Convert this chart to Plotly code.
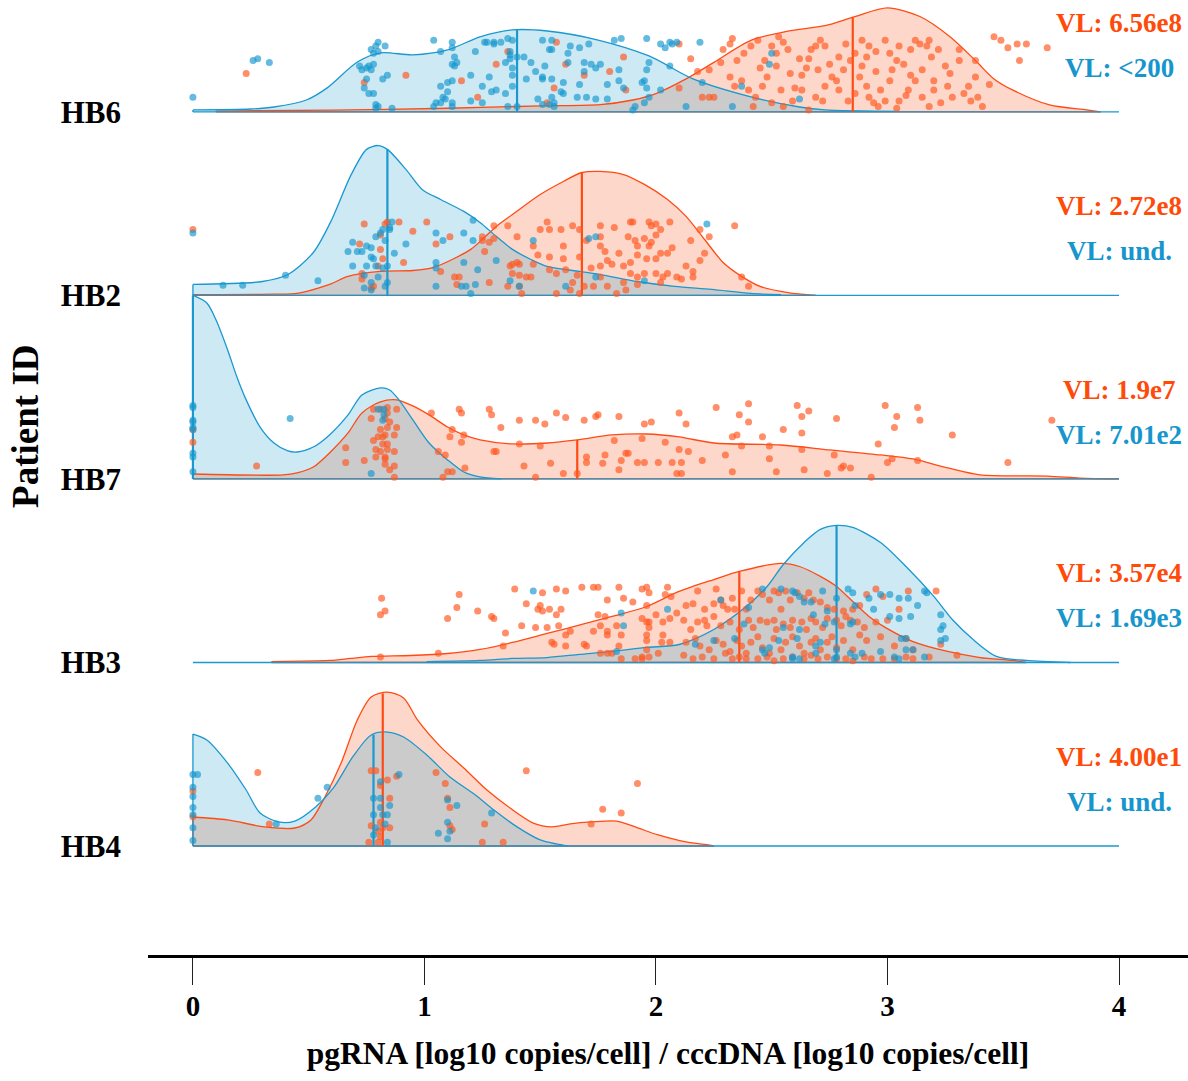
import numpy as np
import plotly.graph_objects as go

# ---------------------------------------------------------------------------
# Ridges, bottom to top
patients = ["HB4", "HB3", "HB7", "HB2", "HB6"]
ridge_pos = [1, 2, 3, 4, 5]
x_ticks = [0, 1, 2, 3, 4]

# Viral-load labels per patient (series 1 = orange, series 2 = blue)
vl_1 = ["VL: 4.00e1", "VL: 3.57e4", "VL: 1.9e7", "VL: 2.72e8", "VL: 6.56e8"]
vl_2 = ["VL: und.", "VL: 1.69e3", "VL: 7.01e2", "VL: und.", "VL: &lt;200"]

# Median positions per patient
median_1 = [0.82, 2.36, 1.66, 1.68, 2.85]
median_2 = [0.78, 2.78, 0.00, 0.84, 1.40]

# Density curves: (value, scaled density)
hb6_dens_1 = [(0.10, 0.005), (0.60, 0.010), (1.10, 0.020), (1.50, 0.033), (1.76, 0.040),
              (1.90, 0.065), (2.00, 0.100), (2.13, 0.180), (2.25, 0.270), (2.41, 0.390),
              (2.57, 0.440), (2.73, 0.470), (2.86, 0.520), (3.00, 0.567), (3.14, 0.520),
              (3.27, 0.410), (3.38, 0.280), (3.46, 0.180), (3.54, 0.120), (3.70, 0.038),
              (3.86, 0.011), (3.92, 0.000)]
hb6_dens_2 = [(0.00, 0.011), (0.25, 0.016), (0.35, 0.027), (0.49, 0.065), (0.58, 0.131),
              (0.71, 0.272), (0.81, 0.322), (0.95, 0.311), (1.10, 0.338), (1.24, 0.409),
              (1.38, 0.447), (1.53, 0.441), (1.75, 0.392), (1.97, 0.305), (2.16, 0.180),
              (2.41, 0.082), (2.62, 0.027), (2.73, 0.011), (3.05, 0.003), (4.00, 0.000)]

hb2_dens_1 = [(0.00, 0.005), (0.35, 0.007), (0.45, 0.011), (0.59, 0.060), (0.67, 0.104),
              (0.81, 0.131), (0.95, 0.136), (1.04, 0.153), (1.12, 0.196), (1.20, 0.251),
              (1.25, 0.305), (1.31, 0.376), (1.38, 0.441), (1.50, 0.550), (1.60, 0.621),
              (1.68, 0.670), (1.76, 0.676), (1.86, 0.659), (1.95, 0.605), (2.05, 0.523),
              (2.13, 0.431), (2.21, 0.305), (2.29, 0.180), (2.37, 0.104), (2.45, 0.049),
              (2.57, 0.016), (2.69, 0.000)]
hb2_dens_2 = [(0.00, 0.060), (0.30, 0.076), (0.41, 0.114), (0.52, 0.234), (0.60, 0.414),
              (0.68, 0.649), (0.75, 0.796), (0.80, 0.817), (0.84, 0.796), (0.92, 0.687),
              (0.99, 0.578), (1.07, 0.523), (1.17, 0.458), (1.24, 0.398), (1.31, 0.322),
              (1.38, 0.251), (1.46, 0.196), (1.53, 0.158), (1.67, 0.131), (1.76, 0.114),
              (1.92, 0.076), (2.08, 0.049), (2.24, 0.033), (2.41, 0.011), (2.54, 0.004),
              (4.00, 0.000)]

hb7_dens_1 = [(0.00, 0.027), (0.39, 0.022), (0.45, 0.033), (0.52, 0.065), (0.59, 0.142),
              (0.67, 0.251), (0.73, 0.360), (0.81, 0.420), (0.88, 0.431), (0.95, 0.398),
              (1.02, 0.349), (1.10, 0.283), (1.17, 0.240), (1.24, 0.213), (1.38, 0.191),
              (1.53, 0.196), (1.66, 0.213), (1.81, 0.240), (1.96, 0.245), (2.10, 0.229),
              (2.25, 0.196), (2.54, 0.185), (2.75, 0.158), (2.97, 0.131), (3.11, 0.109),
              (3.26, 0.060), (3.40, 0.022), (3.69, 0.016), (3.83, 0.005), (4.00, 0.000)]
hb7_dens_2 = [(0.00, 1.000), (0.06, 0.959), (0.10, 0.866), (0.15, 0.703), (0.19, 0.556),
              (0.23, 0.431), (0.29, 0.283), (0.35, 0.196), (0.41, 0.153), (0.45, 0.147),
              (0.52, 0.174), (0.59, 0.240), (0.67, 0.349), (0.73, 0.458), (0.81, 0.496),
              (0.85, 0.485), (0.89, 0.431), (0.95, 0.322), (1.02, 0.196), (1.10, 0.104),
              (1.17, 0.038), (1.24, 0.011), (1.33, 0.000), (4.00, 0.000)]

hb3_dens_1 = [(0.34, 0.005), (0.59, 0.011), (0.68, 0.022), (0.77, 0.033), (0.94, 0.038),
              (1.10, 0.049), (1.24, 0.071), (1.38, 0.109), (1.53, 0.158), (1.68, 0.207),
              (1.81, 0.251), (1.96, 0.305), (2.10, 0.387), (2.25, 0.452), (2.36, 0.496),
              (2.54, 0.540), (2.62, 0.523), (2.71, 0.469), (2.78, 0.414), (2.85, 0.332),
              (2.92, 0.251), (2.99, 0.191), (3.11, 0.114), (3.26, 0.060), (3.40, 0.027),
              (3.54, 0.011), (3.60, 0.000)]
hb3_dens_2 = [(0.00, 0.000), (1.01, 0.005), (1.24, 0.011), (1.38, 0.022), (1.53, 0.027),
              (1.67, 0.044), (1.81, 0.060), (1.96, 0.082), (2.10, 0.098), (2.25, 0.180),
              (2.39, 0.305), (2.48, 0.414), (2.55, 0.534), (2.64, 0.654), (2.71, 0.725),
              (2.78, 0.747), (2.85, 0.736), (2.97, 0.654), (3.08, 0.523), (3.20, 0.360),
              (3.28, 0.234), (3.37, 0.125), (3.47, 0.033), (3.60, 0.011), (3.79, 0.000),
              (4.00, 0.000)]

hb4_dens_1 = [(0.00, 0.158), (0.15, 0.142), (0.31, 0.104), (0.44, 0.098), (0.51, 0.142),
              (0.57, 0.267), (0.64, 0.452), (0.71, 0.687), (0.77, 0.812), (0.84, 0.839),
              (0.91, 0.807), (0.97, 0.687), (1.07, 0.540), (1.17, 0.425), (1.27, 0.305),
              (1.37, 0.207), (1.47, 0.125), (1.55, 0.104), (1.63, 0.120), (1.72, 0.131),
              (1.83, 0.136), (1.91, 0.104), (2.01, 0.060), (2.13, 0.022), (2.23, 0.005),
              (2.25, 0.000)]
hb4_dens_2 = [(0.00, 0.610), (0.06, 0.578), (0.15, 0.452), (0.23, 0.305), (0.29, 0.180),
              (0.37, 0.131), (0.44, 0.136), (0.53, 0.213), (0.61, 0.322), (0.69, 0.485),
              (0.77, 0.605), (0.84, 0.621), (0.91, 0.594), (1.01, 0.496), (1.11, 0.376),
              (1.22, 0.278), (1.30, 0.196), (1.40, 0.104), (1.50, 0.033), (1.57, 0.011),
              (1.62, 0.000), (4.00, 0.000)]

# Jittered observations: (value, vertical jitter above the ridge baseline)
hb6_pts_1 = [(0.23, 0.21), (0.74, 0.16), (0.92, 0.20), (1.16, 0.17), (1.23, 0.08), (1.36, 0.33),
             (1.31, 0.26), (1.53, 0.05), (1.57, 0.38), (1.61, 0.26), (1.56, 0.13), (1.69, 0.20),
             (1.86, 0.30), (1.87, 0.12), (1.80, 0.22), (2.10, 0.37), (2.15, 0.29), (2.10, 0.13),
             (2.20, 0.08), (2.23, 0.08), (2.25, 0.08), (2.18, 0.22), (2.23, 0.23), (2.29, 0.34),
             (2.33, 0.40), (2.32, 0.37), (2.28, 0.27), (2.35, 0.28), (2.38, 0.32), (2.41, 0.36),
             (2.44, 0.39), (2.47, 0.28), (2.50, 0.36), (2.53, 0.41), (2.55, 0.38), (2.57, 0.34),
             (2.52, 0.25), (2.48, 0.19), (2.46, 0.14), (2.43, 0.08), (2.42, 0.03), (2.55, 0.03),
             (2.66, 0.01), (2.59, 0.06), (2.60, 0.13), (2.63, 0.20), (2.66, 0.29), (2.67, 0.34),
             (2.69, 0.36), (2.71, 0.39), (2.73, 0.36), (2.75, 0.26), (2.76, 0.19), (2.73, 0.14),
             (2.72, 0.06), (2.79, 0.12), (2.83, 0.06), (2.82, 0.37), (2.86, 0.32), (2.89, 0.39),
             (2.92, 0.36), (2.91, 0.30), (2.89, 0.25), (2.88, 0.19), (2.91, 0.14), (2.92, 0.08),
             (2.94, 0.05), (2.96, 0.03), (2.99, 0.39), (3.01, 0.32), (3.04, 0.28), (3.05, 0.36),
             (3.07, 0.26), (3.10, 0.34), (3.12, 0.39), (3.14, 0.37), (3.17, 0.36), (3.18, 0.39),
             (3.19, 0.30), (3.15, 0.23), (3.12, 0.17), (3.09, 0.12), (3.05, 0.06), (3.04, 0.02),
             (3.15, 0.08), (3.18, 0.03), (3.22, 0.34), (3.25, 0.25), (3.27, 0.21), (3.31, 0.34),
             (3.31, 0.28), (3.35, 0.14), (3.38, 0.19), (3.39, 0.08), (3.41, 0.03), (3.36, 0.06),
             (3.28, 0.08), (3.23, 0.05), (3.20, 0.12), (3.44, 0.15), (3.46, 0.41), (3.49, 0.39),
             (3.52, 0.35), (3.56, 0.37), (3.57, 0.28), (3.60, 0.37), (3.69, 0.35), (3.38, 0.28),
             (3.01, 0.17), (2.97, 0.12), (2.99, 0.06), (2.81, 0.23), (2.78, 0.17), (2.63, 0.12),
             (2.54, 0.12), (2.50, 0.05), (2.40, 0.12), (2.37, 0.17), (2.34, 0.14), (2.32, 0.19),
             (2.52, 0.32), (2.70, 0.23), (2.62, 0.29), (2.65, 0.24), (2.79, 0.30), (2.84, 0.28),
             (2.95, 0.22), (3.02, 0.23), (3.10, 0.20), (3.20, 0.17), (3.26, 0.14), (3.33, 0.10),
             (2.86, 0.10), (2.95, 0.33), (3.08, 0.09), (2.69, 0.08), (2.58, 0.21), (2.45, 0.24)]
hb6_pts_2 = [(0.00, 0.08), (0.26, 0.28), (0.28, 0.29), (0.33, 0.27),
             (0.80, 0.38), (0.79, 0.36), (0.83, 0.36), (0.77, 0.34), (0.78, 0.32), (0.80, 0.33),
             (0.72, 0.25), (0.73, 0.23), (0.75, 0.24), (0.76, 0.25), (0.77, 0.23), (0.78, 0.26),
             (0.84, 0.20), (0.82, 0.18), (0.75, 0.18), (0.74, 0.13), (0.76, 0.10), (0.78, 0.10),
             (0.79, 0.04), (0.80, 0.03), (0.79, 0.02), (0.86, 0.02),
             (1.04, 0.39), (1.12, 0.38), (1.12, 0.35), (1.07, 0.33), (1.22, 0.33), (1.13, 0.30),
             (1.14, 0.27), (1.12, 0.26), (1.13, 0.25), (1.20, 0.20), (1.12, 0.17), (1.07, 0.14),
             (1.10, 0.16), (1.10, 0.11), (1.08, 0.08), (1.09, 0.07), (1.12, 0.05), (1.07, 0.05),
             (1.05, 0.05), (1.04, 0.03), (1.12, 0.03), (1.20, 0.06), (1.25, 0.05),
             (1.26, 0.38), (1.27, 0.38), (1.30, 0.38), (1.33, 0.38), (1.36, 0.40), (1.38, 0.39),
             (1.30, 0.37), (1.37, 0.33), (1.37, 0.31), (1.37, 0.29), (1.35, 0.27), (1.38, 0.24),
             (1.38, 0.20), (1.28, 0.19), (1.25, 0.14), (1.29, 0.11), (1.31, 0.12), (1.38, 0.14),
             (1.35, 0.10), (1.44, 0.18), (1.43, 0.30), (1.40, 0.30),
             (1.36, 0.03), (1.40, 0.03), (1.49, 0.07), (1.51, 0.04), (1.54, 0.04), (1.56, 0.03),
             (1.46, 0.27), (1.48, 0.22), (1.51, 0.19), (1.51, 0.18), (1.55, 0.18), (1.52, 0.25),
             (1.54, 0.34), (1.55, 0.34), (1.51, 0.39), (1.55, 0.39), (1.62, 0.32), (1.63, 0.36),
             (1.62, 0.27), (1.60, 0.16), (1.60, 0.10), (1.55, 0.08), (1.56, 0.05), (1.67, 0.35),
             (1.71, 0.37), (1.69, 0.27), (1.69, 0.22), (1.72, 0.26), (1.74, 0.24), (1.67, 0.15),
             (1.66, 0.08), (1.70, 0.08), (1.74, 0.07), (1.59, 0.11),
             (1.76, 0.26), (1.79, 0.15), (1.82, 0.39), (1.85, 0.40), (1.84, 0.23), (1.86, 0.13),
             (1.84, 0.17), (1.96, 0.40), (2.02, 0.37), (2.04, 0.35), (2.06, 0.38), (2.07, 0.37),
             (2.09, 0.38), (2.19, 0.38), (1.97, 0.27), (1.96, 0.23), (1.95, 0.17), (1.94, 0.16),
             (1.96, 0.13), (1.97, 0.08), (1.91, 0.03), (1.90, 0.01), (1.95, 0.05), (2.06, 0.25),
             (2.02, 0.12), (1.79, 0.07), (2.13, 0.03), (2.20, 0.16), (2.37, 0.14), (2.33, 0.03),
             (2.50, 0.32), (2.49, 0.26), (2.62, 0.07)]

hb2_pts_1 = [(0.00, 0.36), (0.74, 0.39), (0.81, 0.33), (0.83, 0.39), (0.84, 0.40), (0.89, 0.40),
             (0.95, 0.35), (1.01, 0.40), (0.72, 0.28), (0.81, 0.25), (0.82, 0.20), (0.80, 0.16),
             (0.77, 0.04), (0.78, 0.05), (0.73, 0.12), (0.73, 0.09), (0.91, 0.18), (1.05, 0.28),
             (1.11, 0.32), (1.07, 0.13), (1.13, 0.10), (1.15, 0.10), (1.14, 0.06), (1.25, 0.32),
             (1.25, 0.30), (1.26, 0.24), (1.28, 0.29), (1.30, 0.38), (1.36, 0.38), (1.40, 0.32),
             (1.30, 0.31), (1.38, 0.17), (1.40, 0.18), (1.37, 0.16), (1.41, 0.17), (1.44, 0.10),
             (1.46, 0.10), (1.38, 0.12), (1.41, 0.11), (1.41, 0.05), (1.42, 0.01), (1.28, 0.07),
             (1.36, 0.05), (1.47, 0.17), (1.50, 0.36), (1.53, 0.40), (1.54, 0.36), (1.59, 0.36),
             (1.64, 0.38), (1.67, 0.36), (1.47, 0.27), (1.49, 0.22), (1.54, 0.21), (1.60, 0.27),
             (1.60, 0.20), (1.67, 0.21), (1.54, 0.14), (1.57, 0.12), (1.61, 0.14), (1.64, 0.07),
             (1.69, 0.05), (1.57, 0.01), (1.63, 0.03), (1.67, 0.01), (1.73, 0.05),
             (1.76, 0.38), (1.76, 0.32), (1.76, 0.27), (1.76, 0.16), (1.76, 0.10), (1.82, 0.37),
             (1.89, 0.40), (1.90, 0.40), (1.97, 0.40), (1.98, 0.38), (2.00, 0.39), (2.02, 0.36),
             (2.06, 0.40), (1.88, 0.32), (1.91, 0.30), (1.92, 0.27), (1.95, 0.31), (1.97, 0.27),
             (2.00, 0.33), (1.98, 0.29), (2.02, 0.23), (2.05, 0.23), (2.07, 0.26), (2.00, 0.20),
             (1.96, 0.20), (1.92, 0.22), (1.89, 0.18), (1.86, 0.16), (1.81, 0.17), (1.79, 0.19),
             (1.78, 0.24), (1.84, 0.23), (1.89, 0.12), (1.92, 0.10), (1.95, 0.12), (2.00, 0.12),
             (2.03, 0.10), (2.05, 0.12), (2.09, 0.10), (2.13, 0.16), (2.16, 0.13), (2.15, 0.30),
             (2.19, 0.19), (2.19, 0.36), (2.23, 0.32), (2.21, 0.23), (2.34, 0.38), (2.37, 0.10),
             (2.40, 0.05), (1.86, 0.07), (1.79, 0.05), (1.83, 0.01), (1.87, 0.03), (1.92, 0.06),
             (2.02, 0.07), (2.11, 0.09), (2.16, 0.10), (1.70, 0.30), (1.72, 0.15), (1.66, 0.11)]
hb2_pts_2 = [(0.00, 0.34), (0.13, 0.055), (0.215, 0.055), (0.40, 0.11), (0.54, 0.08),
             (0.69, 0.29), (0.67, 0.24), (0.71, 0.24), (0.73, 0.24), (0.75, 0.27), (0.77, 0.26),
             (0.79, 0.32), (0.81, 0.34), (0.82, 0.36), (0.83, 0.30), (0.85, 0.37), (0.86, 0.40),
             (0.85, 0.36), (0.77, 0.21), (0.78, 0.20), (0.79, 0.16), (0.75, 0.16), (0.69, 0.16),
             (0.74, 0.11), (0.80, 0.10), (0.82, 0.15), (0.84, 0.16), (0.84, 0.07), (0.83, 0.05),
             (0.77, 0.07), (0.77, 0.03), (0.74, 0.04), (0.87, 0.23), (0.92, 0.28),
             (1.05, 0.34), (1.08, 0.30), (1.05, 0.05), (1.05, 0.18), (1.05, 0.15), (1.17, 0.34),
             (1.21, 0.30), (1.21, 0.41), (1.17, 0.18), (1.23, 0.14), (1.16, 0.05), (1.18, 0.05),
             (1.22, 0.06), (1.20, 0.01), (1.31, 0.19), (1.47, 0.30), (1.37, 0.08), (1.41, 0.05),
             (1.61, 0.05), (1.71, 0.31), (1.74, 0.32), (1.74, 0.10), (2.22, 0.39), (1.95, 0.08)]

hb7_pts_1 = [(0.00, 0.20), (0.00, 0.27), (0.275, 0.07), (0.66, 0.17), (0.66, 0.09), (0.74, 0.10),
             (0.78, 0.38), (0.81, 0.38), (0.84, 0.39), (0.88, 0.38), (0.77, 0.33), (0.84, 0.36),
             (0.83, 0.33), (0.85, 0.31), (0.81, 0.27), (0.84, 0.28), (0.88, 0.28), (0.83, 0.24),
             (0.80, 0.23), (0.82, 0.23), (0.82, 0.19), (0.87, 0.24), (0.79, 0.16), (0.81, 0.15),
             (0.84, 0.16), (0.87, 0.15), (0.83, 0.12), (0.83, 0.11), (0.83, 0.08), (0.87, 0.07),
             (0.85, 0.05), (0.87, 0.01), (0.78, 0.21), (0.79, 0.12), (0.84, 0.19),
             (1.03, 0.36), (1.06, 0.15), (1.09, 0.13), (1.15, 0.38), (1.16, 0.36), (1.12, 0.27),
             (1.11, 0.23), (1.17, 0.24), (1.16, 0.20), (1.10, 0.04), (1.12, 0.04), (1.08, 0.01),
             (1.175, 0.06), (1.28, 0.38), (1.29, 0.35), (1.33, 0.28), (1.30, 0.15), (1.31, 0.15),
             (1.41, 0.32), (1.41, 0.19), (1.43, 0.07), (1.48, 0.01), (1.48, 0.32), (1.52, 0.30),
             (1.50, 0.18), (1.545, 0.085), (1.57, 0.36), (1.61, 0.335), (1.60, 0.03), (1.66, 0.03),
             (1.70, 0.12), (1.70, 0.09), (1.77, 0.085), (1.78, 0.13), (1.69, 0.32), (1.74, 0.34),
             (1.75, 0.35), (1.82, 0.21), (1.84, 0.34), (1.84, 0.05), (1.85, 0.10), (1.87, 0.14),
             (1.88, 0.14), (1.92, 0.09), (1.95, 0.09), (2.01, 0.09), (2.07, 0.09), (1.95, 0.30),
             (1.98, 0.31), (1.94, 0.22), (2.04, 0.20), (2.10, 0.36), (2.10, 0.16), (2.09, 0.03),
             (2.13, 0.30), (2.14, 0.15), (2.11, 0.09), (2.11, 0.03), (2.20, 0.10), (2.26, 0.39),
             (2.30, 0.13), (2.33, 0.04), (2.33, 0.23), (2.35, 0.24), (2.36, 0.35), (2.37, 0.18),
             (2.40, 0.41), (2.40, 0.31), (2.46, 0.23), (2.49, 0.18), (2.49, 0.11), (2.52, 0.04),
             (2.55, 0.27), (2.61, 0.40), (2.63, 0.34), (2.66, 0.37), (2.63, 0.25), (2.63, 0.16),
             (2.64, 0.05), (2.74, 0.03), (2.77, 0.13), (2.78, 0.33), (2.80, 0.06), (2.81, 0.07),
             (2.84, 0.06), (2.93, 0.01), (2.96, 0.19), (2.99, 0.40), (3.04, 0.34), (3.03, 0.28),
             (3.02, 0.11), (3.00, 0.09), (3.13, 0.39), (3.14, 0.32), (3.13, 0.10), (3.28, 0.24),
             (3.52, 0.09), (3.71, 0.32)]
hb7_pts_2 = [(0.00, 0.40), (0.00, 0.39), (0.00, 0.32), (0.00, 0.31), (0.00, 0.28), (0.00, 0.27),
             (0.00, 0.14), (0.00, 0.12), (0.00, 0.04), (0.42, 0.33), (0.77, 0.03), (0.80, 0.38),
             (0.825, 0.38), (0.82, 0.32), (0.825, 0.35)]

hb3_pts_1 = [(0.815, 0.35), (0.81, 0.26), (0.83, 0.28), (0.81, 0.03), (1.06, 0.05), (1.10, 0.24),
             (1.14, 0.30), (1.15, 0.37), (1.23, 0.28), (1.29, 0.25), (1.30, 0.24), (1.35, 0.16),
             (1.34, 0.09), (1.39, 0.40), (1.42, 0.20), (1.44, 0.32), (1.48, 0.19), (1.50, 0.31),
             (1.49, 0.29), (1.51, 0.28), (1.54, 0.29), (1.51, 0.38), (1.57, 0.40), (1.61, 0.39),
             (1.59, 0.29), (1.57, 0.26), (1.58, 0.20), (1.53, 0.19), (1.55, 0.11), (1.56, 0.10),
             (1.61, 0.09), (1.61, 0.15), (1.63, 0.17), (1.68, 0.41), (1.73, 0.41), (1.75, 0.41),
             (1.69, 0.10), (1.70, 0.09), (1.73, 0.17), (1.75, 0.26), (1.76, 0.20), (1.78, 0.25),
             (1.79, 0.34), (1.79, 0.17), (1.79, 0.15), (1.83, 0.20), (1.85, 0.15), (1.84, 0.41),
             (1.86, 0.35), (1.90, 0.33), (1.76, 0.05), (1.79, 0.05), (1.81, 0.05), (1.84, 0.09),
             (1.85, 0.02), (1.91, 0.02), (1.94, 0.03), (1.94, 0.02), (1.97, 0.03), (2.01, 0.05),
             (1.94, 0.40), (1.96, 0.41), (1.97, 0.38), (2.04, 0.37), (2.05, 0.41), (2.065, 0.36),
             (1.96, 0.31), (1.94, 0.24), (1.96, 0.22), (1.97, 0.19), (1.97, 0.22), (2.00, 0.26),
             (2.03, 0.22), (2.06, 0.24), (1.96, 0.15), (1.96, 0.12), (1.96, 0.07), (2.03, 0.15),
             (2.025, 0.11), (2.06, 0.11), (2.09, 0.27),
             (2.13, 0.31), (2.16, 0.32), (2.18, 0.39), (2.21, 0.29), (2.25, 0.32), (2.26, 0.40),
             (2.28, 0.34), (2.29, 0.31), (2.31, 0.29), (2.33, 0.35), (2.34, 0.29), (2.37, 0.39),
             (2.39, 0.29), (2.41, 0.34), (2.44, 0.39), (2.46, 0.37), (2.49, 0.34), (2.51, 0.39),
             (2.53, 0.38), (2.54, 0.29), (2.56, 0.39), (2.58, 0.34), (2.61, 0.38), (2.64, 0.35),
             (2.66, 0.38), (2.68, 0.34), (2.71, 0.33), (2.74, 0.30), (2.77, 0.29), (2.81, 0.28),
             (2.82, 0.25), (2.85, 0.29), (2.88, 0.31), (2.91, 0.37), (2.95, 0.40), (2.98, 0.36),
             (3.05, 0.29), (3.09, 0.39), (3.21, 0.39),
             (2.12, 0.23), (2.15, 0.18), (2.18, 0.22), (2.21, 0.23), (2.22, 0.20), (2.25, 0.25),
             (2.28, 0.20), (2.32, 0.22), (2.36, 0.18), (2.40, 0.23), (2.42, 0.19), (2.45, 0.23),
             (2.48, 0.22), (2.51, 0.23), (2.52, 0.18), (2.55, 0.21), (2.58, 0.19), (2.59, 0.23),
             (2.63, 0.22), (2.65, 0.18), (2.67, 0.24), (2.69, 0.22), (2.72, 0.19), (2.74, 0.24),
             (2.78, 0.23), (2.80, 0.20), (2.84, 0.23), (2.87, 0.22), (2.90, 0.19), (2.95, 0.22),
             (3.00, 0.23),
             (2.13, 0.11), (2.17, 0.13), (2.19, 0.09), (2.23, 0.07), (2.26, 0.12), (2.29, 0.10),
             (2.32, 0.06), (2.35, 0.12), (2.37, 0.09), (2.39, 0.05), (2.41, 0.11), (2.44, 0.14),
             (2.46, 0.08), (2.49, 0.05), (2.51, 0.13), (2.54, 0.07), (2.56, 0.11), (2.59, 0.14),
             (2.62, 0.09), (2.64, 0.05), (2.67, 0.11), (2.69, 0.13), (2.71, 0.07), (2.74, 0.11),
             (2.76, 0.14), (2.78, 0.08), (2.81, 0.12), (2.85, 0.07), (2.88, 0.15), (2.91, 0.12),
             (2.97, 0.14), (3.03, 0.09), (3.08, 0.13), (3.11, 0.07), (3.23, 0.10), (3.30, 0.04),
             (2.12, 0.04), (2.16, 0.02), (2.20, 0.03), (2.25, 0.02), (2.30, 0.05), (2.33, 0.02),
             (2.36, 0.03), (2.39, 0.02), (2.44, 0.02), (2.48, 0.03), (2.51, 0.01), (2.55, 0.02),
             (2.59, 0.03), (2.64, 0.02), (2.67, 0.04), (2.70, 0.02), (2.74, 0.03), (2.78, 0.02),
             (2.82, 0.02), (2.85, 0.01), (2.90, 0.03), (2.93, 0.02), (2.98, 0.02), (3.03, 0.02),
             (3.08, 0.03), (3.11, 0.02), (3.18, 0.03)]
hb3_pts_2 = [(1.47, 0.39), (1.85, 0.27), (1.86, 0.20), (2.05, 0.29), (1.83, 0.06),
             (2.28, 0.34), (2.40, 0.30), (2.46, 0.40), (2.54, 0.40), (2.59, 0.39), (2.60, 0.38),
             (2.62, 0.36), (2.64, 0.33), (2.72, 0.39), (2.78, 0.35), (2.83, 0.40), (2.85, 0.38),
             (2.86, 0.31), (2.92, 0.35), (2.94, 0.29), (2.97, 0.37), (3.01, 0.37), (3.05, 0.35),
             (3.09, 0.35), (3.16, 0.39), (3.17, 0.38), (3.01, 0.25), (3.05, 0.24), (3.10, 0.25),
             (3.13, 0.31), (3.23, 0.26), (3.24, 0.20), (3.23, 0.18), (3.25, 0.13), (3.23, 0.12),
             (3.06, 0.13), (3.08, 0.13), (2.84, 0.21), (2.85, 0.22), (2.77, 0.22), (2.73, 0.21),
             (2.74, 0.28), (2.68, 0.26), (2.67, 0.33), (2.62, 0.18), (2.61, 0.13), (2.55, 0.19),
             (2.53, 0.12), (2.49, 0.08), (2.46, 0.07), (2.47, 0.05), (2.38, 0.21), (2.34, 0.13),
             (2.25, 0.12), (2.17, 0.10), (2.59, 0.03), (2.62, 0.02), (2.59, 0.02), (2.86, 0.03),
             (2.84, 0.05), (2.89, 0.05), (2.97, 0.06), (3.03, 0.03), (3.05, 0.02), (3.16, 0.03),
             (3.11, 0.07), (3.08, 0.07), (2.69, 0.09), (2.69, 0.05), (2.71, 0.11), (2.78, 0.07),
             (2.78, 0.03), (2.77, 0.02)]

hb4_pts_1 = [(0.00, 0.30), (0.00, 0.16), (0.28, 0.40), (0.33, 0.12), (0.77, 0.41), (0.79, 0.41),
             (0.81, 0.33), (0.84, 0.36), (0.85, 0.26), (0.77, 0.11), (0.81, 0.13), (0.82, 0.10),
             (0.85, 0.10), (0.80, 0.08), (0.80, 0.02), (0.76, 0.02), (0.81, 0.05), (0.88, 0.38),
             (1.05, 0.40), (1.09, 0.34), (1.10, 0.26), (1.11, 0.21), (1.11, 0.11), (1.12, 0.09),
             (1.26, 0.12), (1.25, 0.02), (1.34, 0.02), (1.44, 0.41), (1.77, 0.20), (1.85, 0.18),
             (1.72, 0.12), (1.92, 0.34)]
hb4_pts_2 = [(0.00, 0.39), (0.00, 0.32), (0.00, 0.27), (0.00, 0.21), (0.00, 0.17), (0.00, 0.10),
             (0.00, 0.03), (0.02, 0.39), (0.36, 0.12), (0.54, 0.26), (0.58, 0.32), (0.78, 0.26),
             (0.78, 0.17), (0.78, 0.06), (0.81, 0.26), (0.81, 0.35), (0.82, 0.17), (0.83, 0.12),
             (0.84, 0.17), (0.84, 0.02), (0.85, 0.22), (0.89, 0.39), (0.81, 0.21), (0.79, 0.10),
             (1.06, 0.07), (1.10, 0.13), (1.10, 0.25), (1.14, 0.22), (1.11, 0.08), (1.10, 0.04),
             (1.29, 0.18)]

# Lookup tables built from the lists above
dens_1 = {"HB6": hb6_dens_1, "HB2": hb2_dens_1, "HB7": hb7_dens_1, "HB3": hb3_dens_1, "HB4": hb4_dens_1}
dens_2 = {"HB6": hb6_dens_2, "HB2": hb2_dens_2, "HB7": hb7_dens_2, "HB3": hb3_dens_2, "HB4": hb4_dens_2}
pts_1 = {"HB6": hb6_pts_1, "HB2": hb2_pts_1, "HB7": hb7_pts_1, "HB3": hb3_pts_1, "HB4": hb4_pts_1}
pts_2 = {"HB6": hb6_pts_2, "HB2": hb2_pts_2, "HB7": hb7_pts_2, "HB3": hb3_pts_2, "HB4": hb4_pts_2}

# Styling
ORANGE_LINE = "#FF4A14"
ORANGE_FILL = "#FDD8CA"
ORANGE_PT = "rgba(255,88,34,0.68)"
BLUE_LINE = "#1A98CF"
BLUE_FILL = "#CDE9F4"
BLUE_PT = "rgba(22,152,206,0.66)"
OVERLAP_FILL = "#CBCBCB"
FONT = "Liberation Serif"
SMOOTH = 0.8
GAP = 0.2  # flat stretches longer than this are drawn straight, not smoothed


def curve_arrays(curve):
    xs = np.array([p[0] for p in curve], dtype=float)
    hs = np.array([p[1] for p in curve], dtype=float)
    return xs, hs


def support(xs, hs):
    """Index range of the non-flat part of a curve (keeps splines from ringing)."""
    nz = np.nonzero(hs > 0)[0]
    i0, i1 = nz[0], nz[-1]
    if i0 > 0 and xs[i0] - xs[i0 - 1] <= GAP:
        i0 -= 1
    if i1 < len(xs) - 1 and xs[i1 + 1] - xs[i1] <= GAP:
        i1 += 1
    return i0, i1 + 1


def add_band(xs, tops, base, fillcolor):
    """Filled band between the ridge baseline and a smoothed top edge."""
    a, b = support(xs, tops)
    xs, tops = xs[a:b], tops[a:b]
    fig.add_trace(go.Scatter(x=[xs[0], xs[-1]], y=[base, base], mode="lines",
                             line=dict(width=0), hoverinfo="skip", showlegend=False))
    fig.add_trace(go.Scatter(x=xs, y=base + tops, mode="lines", fill="tonexty",
                             fillcolor=fillcolor, line=dict(width=0, shape="spline", smoothing=SMOOTH),
                             hoverinfo="skip", showlegend=False))


def add_outline(xs, hs, base, col):
    # Straight baseline over the full extent of the curve
    fig.add_trace(go.Scatter(x=[xs[0], xs[-1]], y=[base, base], mode="lines",
                             line=dict(color=col, width=1.3), hoverinfo="skip", showlegend=False))
    a, b = support(xs, hs)
    fig.add_trace(go.Scatter(x=xs[a:b], y=base + hs[a:b], mode="lines",
                             line=dict(color=col, width=1.3, shape="spline", smoothing=SMOOTH),
                             hoverinfo="skip", showlegend=False))
    if hs[0] > 0:  # vertical edge where the density is cut at its lower bound
        fig.add_trace(go.Scatter(x=[xs[0], xs[0]], y=[base, base + hs[0]], mode="lines",
                                 line=dict(color=col, width=1.3), hoverinfo="skip",
                                 showlegend=False))


def overlap_top(c1, c2):
    x1, h1 = curve_arrays(c1)
    x2, h2 = curve_arrays(c2)
    lo, hi = max(x1[0], x2[0]), min(x1[-1], x2[-1])
    grid = np.union1d(np.concatenate([x1, x2]), np.linspace(lo, hi, 900))
    grid = grid[(grid >= lo) & (grid <= hi)]
    h = np.minimum(np.interp(grid, x1, h1), np.interp(grid, x2, h2))
    return grid, h


fig = go.Figure()

# Draw from the top ridge downwards so lower ridges sit in front
for idx in reversed(range(len(patients))):
    name = patients[idx]
    base = ridge_pos[idx]
    c1, c2 = dens_1[name], dens_2[name]

    for curve, fill in ((c2, BLUE_FILL), (c1, ORANGE_FILL)):
        xs, hs = curve_arrays(curve)
        add_band(xs, hs, base, fill)
    gx, gh = overlap_top(c1, c2)
    add_band(gx, gh, base, OVERLAP_FILL)

    for curve, col in ((c1, ORANGE_LINE), (c2, BLUE_LINE)):
        xs, hs = curve_arrays(curve)
        add_outline(xs, hs, base, col)

    # Median markers: vertical segment from baseline up to the density curve
    for curve, med, col in ((c1, median_1[idx], ORANGE_LINE), (c2, median_2[idx], BLUE_LINE)):
        xs, hs = curve_arrays(curve)
        top = float(np.interp(med, xs, hs))
        fig.add_trace(go.Scatter(x=[med, med], y=[base, base + top], mode="lines",
                                 line=dict(color=col, width=2.2), hoverinfo="skip",
                                 showlegend=False))

    for pts, col in ((pts_1[name], ORANGE_PT), (pts_2[name], BLUE_PT)):
        fig.add_trace(go.Scatter(x=[p[0] for p in pts], y=[base + p[1] for p in pts],
                                 mode="markers", marker=dict(size=7, color=col, line=dict(width=0)),
                                 hoverinfo="skip", showlegend=False))

    # Viral-load labels at the right end of each ridge
    fig.add_annotation(x=4.0, y=base + 0.485, text=vl_1[idx], showarrow=False,
                       xanchor="center", yanchor="middle",
                       font=dict(family=FONT, size=27, color="#FF4A0A", weight="bold"))
    fig.add_annotation(x=4.0, y=base + 0.24, text=vl_2[idx], showarrow=False,
                       xanchor="center", yanchor="middle",
                       font=dict(family=FONT, size=27, color="#1696CC", weight="bold"))

# Y-axis title
fig.add_annotation(xref="paper", yref="paper", x=-0.1173, y=0.553, text="Patient ID",
                   textangle=-90, showarrow=False, xanchor="center", yanchor="middle",
                   font=dict(family=FONT, size=37, color="black", weight="bold"))

fig.update_layout(
    width=1188, height=1081,
    margin=dict(l=148, r=0, t=0, b=126),
    plot_bgcolor="white", paper_bgcolor="white",
    showlegend=False,
    xaxis=dict(
        range=[-0.194, 4.298], tickvals=x_ticks, ticktext=[str(t) for t in x_ticks],
        showgrid=False, zeroline=False, showline=True, linecolor="black", linewidth=2.6,
        ticks="outside", ticklen=27, tickwidth=1, tickcolor="#222",
        ticklabelstandoff=-4,
        tickfont=dict(family=FONT, size=29, color="black", weight="bold"),
        title=dict(text="pgRNA [log10 copies/cell] / cccDNA [log10 copies/cell]",
                   font=dict(family=FONT, size=31.5, color="black", weight="bold"), standoff=22),
        fixedrange=True,
    ),
    yaxis=dict(
        range=[0.406, 5.610], tickvals=ridge_pos, ticktext=patients,
        showgrid=False, zeroline=False, showline=False, ticks="",
        ticklabelstandoff=26,
        tickfont=dict(family=FONT, size=31, color="black", weight="bold"),
        fixedrange=True,
    ),
)

fig.write_html("out.html")
